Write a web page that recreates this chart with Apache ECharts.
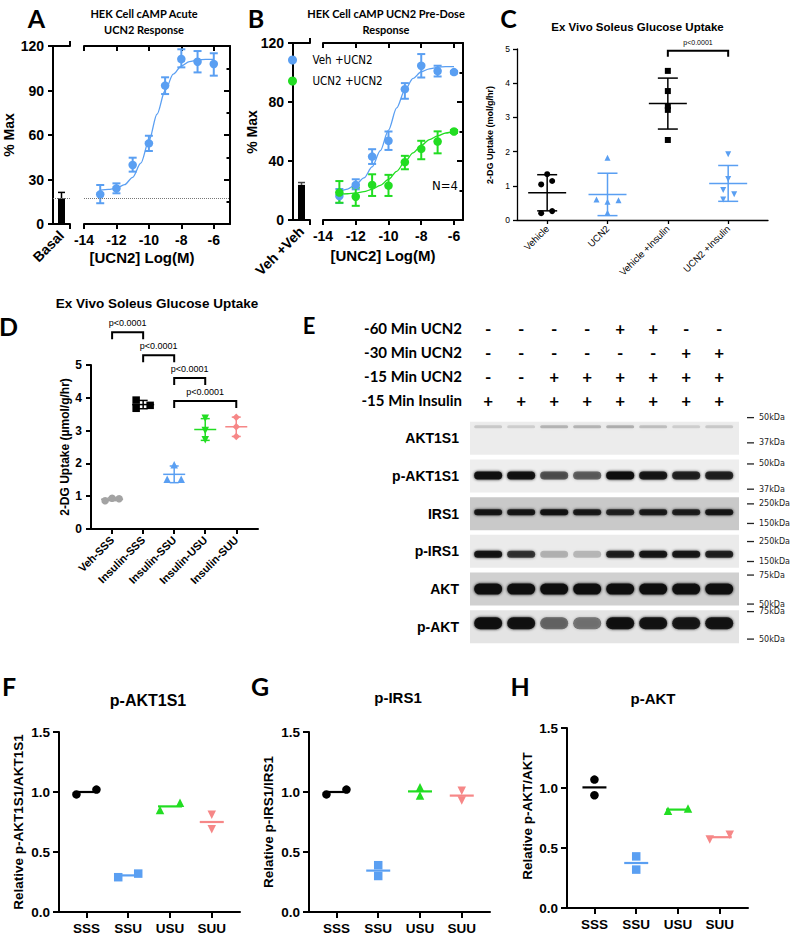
<!DOCTYPE html>
<html><head><meta charset="utf-8">
<script src="https://cdn.jsdelivr.net/npm/echarts@6/dist/echarts.min.js"></script>
<style>html,body{margin:0;padding:0;background:#fff}#c{width:800px;height:941px}</style>
</head><body><div id="c"></div>
<script>
// ================= DATA =================
// Panel A
const aLogDose = [-13, -12, -11, -10, -9, -8, -7, -6];
const aResponse = [20.0, 24.0, 39.8, 54.4, 93.3, 111.2, 109.4, 107.9];
const aErrLow = [14.0, 20.7, 35.3, 49.2, 87.6, 105.6, 102.2, 100.0];
const aErrHigh = [26.3, 27.4, 44.7, 59.5, 98.9, 117.8, 116.6, 115.1];
const aFitDose = [-13, -12.5, -12, -11.5, -11, -10.5, -10, -9.5, -9, -8.5, -8, -7.5, -7, -6.5, -6];
const aFitResp = [22.8, 23.3, 24.2, 26.5, 31.5, 41, 56, 74, 90, 101, 106.5, 109.5, 110.5, 111, 111];
const aBasal = 17.3;
const aBasalErr = 21.3;
const logTicks = [-14, -12, -10, -8, -6];
// Panel B
const bLogDose = [-13, -12, -11, -10, -9, -8, -7, -6];
const bVehUcn2 = [16.3, 23.8, 43.0, 53.7, 88.7, 104.6, 101.0, 100.3];
const bVehLow = [11.5, 20.8, 38.0, 47.5, 82.2, 96.6, 97.3, 99.5];
const bVehHigh = [21.0, 27.6, 48.0, 60.0, 92.8, 112.5, 104.6, 101.0];
const bUcnUcn2 = [18.6, 15.8, 23.8, 23.3, 39.2, 48.2, 53.2, 60.0];
const bUcnLow = [11.7, 9.6, 16.3, 16.3, 34.4, 41.2, 45.2, 59.0];
const bUcnHigh = [26.4, 22.0, 31.0, 30.6, 43.5, 53.7, 60.1, 61.0];
const bFitDose = [-13, -12.5, -12, -11.5, -11, -10.5, -10, -9.5, -9, -8.5, -8, -7.5, -7, -6.5, -6];
const bFitVeh = [19.2, 21, 24, 28.5, 36, 47, 61, 76, 88, 96, 100.5, 102.5, 103.5, 104, 104];
const bFitUcn = [17.5, 17.8, 18.3, 19.2, 20.8, 23.5, 27.5, 33, 39.5, 45.5, 50.5, 54.5, 57, 59, 60];
const bBasal = 23.8;
const bBasalErr = 25.4;
const bSeriesNames = ['Veh +UCN2', 'UCN2 +UCN2'];
// Panel C
const cGroups = ['Vehicle', 'UCN2', 'Vehicle +Insulin', 'UCN2 +Insulin'];
const cValues = [
  [1.34, 1.04, 1.14, 0.20, 0.26],
  [1.82, 0.60, 0.53, 0.58, 0.21],
  [4.36, 3.77, 3.33, 3.22, 2.34],
  [1.92, 1.20, 0.88, 0.75, 0.60]
];
const cJitter = [[0, -6, 5, -6, 5], [0, -11, 0, 11, 0], [0, 0, 0, 0, 0], [0, 0, -5, 6, -5]];
const cBrackets = [[2, 3, 4.95]];
const cPLabels = ['p<0.0001'];
// Panel D
const dGroups = ['Veh-SSS', 'Insulin-SSS', 'Insulin-SSU', 'Insulin-USU', 'Insulin-SUU'];
const dValues = [
  [0.86, 0.94, 0.92],
  [3.93, 3.77, 3.68],
  [1.96, 1.52, 1.52],
  [3.38, 3.00, 2.72],
  [3.41, 3.12, 2.82]
];
const dJitter = [[-7, 0, 7], [-7, 7, -7], [0, -7, 7], [0, 0, 0], [0, 0, 0]];
const dBrackets = [[0, 1, 6.0], [1, 2, 5.3], [2, 3, 4.6], [2, 4, 3.9]];
const dPLabels = ['p<0.0001', 'p<0.0001', 'p<0.0001', 'p<0.0001'];
// Panel E (western blot)
const eLanes = [0, 1, 2, 3, 4, 5, 6, 7];
const eTreatRows = ['-60 Min UCN2', '-30 Min UCN2', '-15 Min UCN2', '-15 Min Insulin'];
const eTreatSigns = [
  ['-', '-', '-', '-', '+', '+', '-', '-'],
  ['-', '-', '-', '-', '-', '-', '+', '+'],
  ['-', '-', '+', '+', '+', '+', '+', '+'],
  ['+', '+', '+', '+', '+', '+', '+', '+']
];
const eBlotRows = ['AKT1S1', 'p-AKT1S1', 'IRS1', 'p-IRS1', 'AKT', 'p-AKT'];
const eBandIntensity = [
  [0.14, 0.12, 0.22, 0.22, 0.24, 0.18, 0.12, 0.14],
  [0.95, 0.92, 0.60, 0.55, 0.97, 0.88, 0.82, 0.82],
  [0.88, 0.88, 0.92, 0.85, 0.80, 0.85, 0.82, 0.88],
  [0.90, 0.72, 0.22, 0.20, 0.82, 0.88, 0.88, 0.82],
  [0.97, 0.97, 0.97, 0.97, 0.97, 0.97, 0.95, 0.97],
  [0.95, 0.92, 0.50, 0.45, 0.92, 0.90, 0.88, 0.90]
];
const eMarkerLabels = ['50kDa', '37kDa', '50kDa', '37kDa', '250kDa', '150kDa', '250kDa', '150kDa', '75kDa', '50kDa', '75kDa', '50kDa'];
const eMarkerRowPos = [-0.55, 0.12, 0.68, 1.35, 1.74, 2.26, 2.74, 3.27, 3.63, 4.40, 4.60, 5.33];
// Panels F, G, H
const fghGroups = ['SSS', 'SSU', 'USU', 'SUU'];
const fValues = [[0.98, 1.02], [0.29, 0.32], [0.85, 0.91], [0.81, 0.69]];
const gValues = [[0.98, 1.02], [0.39, 0.30], [1.04, 0.97], [1.01, 0.93]];
const hValues = [[1.07, 0.94], [0.43, 0.32], [0.81, 0.83], [0.57, 0.61]];
const fJitter = [[-10, 10], [-10, 10], [-10, 10], [0, 0]];
const gJitter = [[-10, 10], [0, 0], [0, 0], [0, 0]];
const hJitter = [[0, 0], [0, 0], [-10, 10], [-10, 10]];

// ================= STYLE =================
const BLUE = '#5a9ff2', GREEN = '#22dd22', PINK = '#f68787', GRAY = '#a3a3a3', BLACK = '#000000';
const ARIAL = '"Liberation Sans", Arial, Helvetica, sans-serif';
const NARROW = '"Liberation Sans Narrow", "Arial Narrow", "DejaVu Sans Condensed", "Liberation Sans", sans-serif';
const CALI = 'Lato, "Open Sans", "Noto Sans", sans-serif';
const cSymbols = ['circle', 'triangle', 'rect', 'triangle'], cRotate = [0, 0, 0, 180], cColors = [BLACK, BLUE, BLACK, BLUE];
const dSymbols = ['circle', 'rect', 'triangle', 'triangle', 'diamond'], dRotate = [0, 0, 0, 180, 0], dColors = [GRAY, BLACK, BLUE, GREEN, PINK];
const fghSymbols = ['circle', 'rect', 'triangle', 'triangle'], fghRotate = [0, 0, 0, 180], fghColors = [BLACK, BLUE, GREEN, PINK];
const eBoxShade = ['#ececec', '#eeeeee', '#c9c9c9', '#ebebeb', '#d0d0d0', '#e4e4e4'];
const eBandHeight = [3, 8, 6, 7, 11, 12];
const eBandDy = [-11.5, -0.5, -1.5, 3, 0, -3.5];

// ================= HELPERS =================
const mean = a => a.reduce((s, v) => s + v, 0) / a.length;
const sdev = a => { const m = mean(a); return Math.sqrt(a.reduce((s, v) => s + (v - m) * (v - m), 0) / (a.length - 1)); };
const zip = (a, b) => a.map((v, i) => [v, b[i]]);
const zip3 = (a, b, c) => a.map((v, i) => [v, b[i], c[i]]);

function merge(a, b) {
  const o = Object.assign({}, a);
  for (const k in b) {
    const v = b[k];
    if (v && typeof v === 'object' && !Array.isArray(v) && a[k] && typeof a[k] === 'object' && !Array.isArray(a[k])) o[k] = merge(a[k], v);
    else o[k] = v;
  }
  return o;
}
function axis(lw, fs, extra) {
  return merge({
    type: 'value',
    axisLine: { show: true, onZero: false, lineStyle: { color: BLACK, width: lw } },
    axisTick: { show: true, length: 5, inside: false, lineStyle: { color: BLACK, width: lw } },
    minorTick: { show: false },
    splitLine: { show: false },
    axisLabel: { show: true, color: BLACK, fontFamily: ARIAL, fontWeight: 'bold', fontSize: fs, margin: 8 }
  }, extra);
}
function ln(x1, y1, x2, y2, color, lw) {
  return { type: 'line', shape: { x1, y1, x2, y2 }, style: { stroke: color, lineWidth: lw } };
}
function errBar(color, cap, lw, lowCap) {
  return function (params, api) {
    const x = api.value(0), lo = api.value(1), hi = api.value(2);
    const pl = api.coord([x, lo]), ph = api.coord([x, hi]);
    const ch = [ln(pl[0], pl[1], ph[0], ph[1], color, lw), ln(ph[0] - cap / 2, ph[1], ph[0] + cap / 2, ph[1], color, lw)];
    if (lowCap) ch.push(ln(pl[0] - cap / 2, pl[1], pl[0] + cap / 2, pl[1], color, lw));
    return { type: 'group', children: ch };
  };
}
function meanSd(colors, meanW, capW, lw, showSd) {
  return function (params, api) {
    const i = params.dataIndex, x = api.value(0), m = api.value(1);
    const c = api.coord([x, m]), col = colors[i];
    const ch = [ln(c[0] - meanW / 2, c[1], c[0] + meanW / 2, c[1], col, lw)];
    if (showSd) {
      const s = api.value(2);
      const t = api.coord([x, m + s]), b = api.coord([x, m - s]);
      ch.push(ln(t[0], t[1], b[0], b[1], col, lw));
      ch.push(ln(t[0] - capW / 2, t[1], t[0] + capW / 2, t[1], col, lw));
      ch.push(ln(b[0] - capW / 2, b[1], b[0] + capW / 2, b[1], col, lw));
    }
    return { type: 'group', children: ch };
  };
}
function bracket(labels, drop, gap, fs, lw) {
  return function (params, api) {
    const p1 = api.coord([api.value(0), api.value(2)]), p2 = api.coord([api.value(1), api.value(2)]);
    return { type: 'group', children: [
      { type: 'polyline', shape: { points: [[p1[0], p1[1] + drop], [p1[0], p1[1]], [p2[0], p2[1]], [p2[0], p2[1] + drop]] }, style: { stroke: BLACK, fill: null, lineWidth: lw } },
      { type: 'text', style: { text: labels[params.dataIndex], x: (p1[0] + p2[0]) / 2, y: p1[1] - gap, fill: BLACK, font: `${fs}px ${ARIAL}`, align: 'center', verticalAlign: 'middle' } }
    ] };
  };
}
function dotPlot(values, jitter, symbols, rotate, colors, xi, yi, size) {
  return values.map((vals, i) => ({
    type: 'scatter', xAxisIndex: xi, yAxisIndex: yi, symbol: symbols[i], symbolRotate: rotate[i], symbolSize: size,
    itemStyle: { color: colors[i], opacity: 1 }, z: 4,
    data: vals.map((v, j) => ({ value: [i, v], symbolOffset: [jitter[i][j], 0] }))
  }));
}
function T(x, y, text, size, weight, family, rot, align) {
  return { type: 'text', x, y, rotation: rot || 0, silent: true,
    style: { text, fill: BLACK, font: `${weight} ${size}px ${family}`, align: align || 'center', verticalAlign: 'middle' } };
}

// ================= LAYOUT =================
const grids = [
  { left: 53, top: 46, width: 17, height: 178 },      // 0 A basal
  { left: 84, top: 46, width: 146, height: 178 },     // 1 A main
  { left: 293, top: 43, width: 17, height: 177 },     // 2 B basal
  { left: 323, top: 43, width: 140, height: 177 },    // 3 B main
  { left: 517, top: 49, width: 251, height: 171 },    // 4 C
  { left: 91, top: 365, width: 167, height: 164 },    // 5 D
  { left: 470, top: 316, width: 269, height: 96 },    // 6 E signs
  { left: 470, top: 419.5, width: 269, height: 226 }, // 7 E blots
  { left: 59, top: 732, width: 181, height: 180 },    // 8 F
  { left: 309, top: 732, width: 181, height: 180 },   // 9 G
  { left: 567, top: 728, width: 181, height: 180 }    // 10 H
].map(g => Object.assign({ containLabel: false, outerBoundsMode: 'none', show: false }, g));

const fghX = gi => axis(2, 13.5, { gridIndex: gi, min: -0.657, max: 3.676, axisTick: { customValues: [0, 1, 2, 3], length: 6 },
  axisLabel: { customValues: [0, 1, 2, 3], formatter: v => fghGroups[Math.round(v)], margin: 9 } });
const fghY = gi => axis(2, 13.5, { gridIndex: gi, min: 0, max: 1.5, interval: 0.5, axisTick: { length: 6 },
  axisLabel: { formatter: v => v.toFixed(1), margin: 9 } });
const minorRight = (gi, iv) => axis(2, 14, { gridIndex: gi, position: 'right', min: 0, max: 120, interval: iv,
  axisTick: { inside: true, length: 6 }, minorTick: { show: true, splitNumber: 2, length: 3.5, lineStyle: { color: BLACK, width: 2 } },
  axisLabel: { show: false } });

const xAxes = [
  axis(2, 14, { gridIndex: 0, min: 0, max: 2, axisTick: { customValues: [2] }, axisLabel: { customValues: [1], formatter: () => 'Basal', rotate: 45, margin: 9 } }),
  axis(2, 14, { gridIndex: 0, position: 'top', min: 0, max: 2, axisTick: { customValues: [2] }, axisLabel: { show: false } }),
  axis(2, 14, { gridIndex: 1, min: -14, max: -5, axisTick: { customValues: logTicks }, axisLabel: { customValues: logTicks, margin: 9 } }),
  axis(2, 14, { gridIndex: 1, position: 'top', min: -14, max: -5, axisTick: { customValues: logTicks, inside: true }, axisLabel: { show: false } }),
  axis(2, 14, { gridIndex: 2, min: 0, max: 2, axisTick: { customValues: [2] }, axisLabel: { customValues: [1], formatter: () => 'Veh +Veh', rotate: 45, margin: 9 } }),
  axis(2, 14, { gridIndex: 2, position: 'top', min: 0, max: 2, axisTick: { customValues: [2] }, axisLabel: { show: false } }),
  axis(2, 14, { gridIndex: 3, min: -14, max: -5.45, axisTick: { customValues: logTicks }, axisLabel: { customValues: logTicks, margin: 9 } }),
  axis(2, 14, { gridIndex: 3, position: 'top', min: -14, max: -5.45, axisTick: { customValues: logTicks, inside: true }, axisLabel: { show: false } }),
  axis(1.3, 9.5, { gridIndex: 4, min: -0.5, max: 3.66, axisTick: { customValues: [0, 1, 2, 3], length: 4 },
    axisLabel: { customValues: [0, 1, 2, 3], formatter: v => cGroups[Math.round(v)], rotate: 45, fontWeight: 'normal', margin: 7 } }),
  axis(2, 11, { gridIndex: 5, min: -0.68, max: 4.7, axisTick: { customValues: [0, 1, 2, 3, 4] },
    axisLabel: { customValues: [0, 1, 2, 3, 4], formatter: v => dGroups[Math.round(v)], rotate: 45, margin: 9 } }),
  { gridIndex: 6, type: 'value', min: -0.55, max: 7.6, show: false },
  { gridIndex: 7, type: 'value', min: -0.55, max: 7.6, show: false },
  fghX(8), fghX(9), fghX(10)
];
const yAxes = [
  axis(2, 14, { gridIndex: 0, min: 0, max: 120, interval: 30, axisLabel: { margin: 9 } }),
  minorRight(1, 30),
  axis(2, 14, { gridIndex: 2, min: 0, max: 120, interval: 40, axisLabel: { margin: 9 } }),
  minorRight(3, 40),
  axis(1.3, 8.5, { gridIndex: 4, min: 0, max: 5, interval: 1, axisTick: { length: 4 }, axisLabel: { fontWeight: 'normal', margin: 7 } }),
  axis(2, 12, { gridIndex: 5, min: 0, max: 5, interval: 1, axisLabel: { margin: 9 } }),
  { gridIndex: 6, type: 'category', inverse: true, data: eTreatRows, axisLine: { show: false }, axisTick: { show: false }, splitLine: { show: false },
    axisLabel: { color: BLACK, fontFamily: CALI, fontWeight: 'bold', fontSize: 15, margin: 8 } },
  { gridIndex: 7, type: 'value', inverse: true, min: -0.5, max: 5.5, axisLine: { show: false }, axisTick: { show: false }, splitLine: { show: false },
    axisLabel: { customValues: [0, 1, 2, 3, 4, 5], formatter: v => eBlotRows[Math.round(v)], color: BLACK, fontFamily: ARIAL, fontWeight: 'bold', fontSize: 14, margin: 11 } },
  fghY(8), fghY(9), fghY(10)
];

const dotted = v => ({ silent: true, symbol: ['none', 'none'], label: { show: false }, lineStyle: { type: 'dotted', color: '#777', width: 1 }, data: [{ yAxis: v }] });

const series = [];
// ---- A ----
series.push({ type: 'bar', xAxisIndex: 0, yAxisIndex: 0, data: [[1, aBasal]], barWidth: 7, itemStyle: { color: BLACK }, markLine: dotted(aBasal) });
series.push({ type: 'custom', xAxisIndex: 0, yAxisIndex: 0, data: [[1, aBasal, aBasalErr]], renderItem: errBar(BLACK, 7, 1.5, false) });
series.push({ type: 'line', xAxisIndex: 2, yAxisIndex: 1, data: zip(aFitDose, aFitResp), smooth: 0.3, smoothMonotone: 'x', symbol: 'none', lineStyle: { color: BLUE, width: 1.3 }, markLine: dotted(aBasal) });
series.push({ type: 'custom', xAxisIndex: 2, yAxisIndex: 1, data: zip3(aLogDose, aErrLow, aErrHigh), renderItem: errBar(BLUE, 8, 2, true) });
series.push({ type: 'scatter', xAxisIndex: 2, yAxisIndex: 1, data: zip(aLogDose, aResponse), symbolSize: 8.5, itemStyle: { color: BLUE, opacity: 1 }, z: 4 });
// ---- B ----
series.push({ type: 'bar', xAxisIndex: 4, yAxisIndex: 2, data: [[1, bBasal]], barWidth: 7, itemStyle: { color: BLACK } });
series.push({ type: 'custom', xAxisIndex: 4, yAxisIndex: 2, data: [[1, bBasal, bBasalErr]], renderItem: errBar('#444', 7, 1.5, false) });
series.push({ type: 'line', xAxisIndex: 6, yAxisIndex: 3, data: zip(bFitDose, bFitVeh), smooth: 0.3, smoothMonotone: 'x', symbol: 'none', lineStyle: { color: BLUE, width: 1.3 } });
series.push({ type: 'line', xAxisIndex: 6, yAxisIndex: 3, data: zip(bFitDose, bFitUcn), smooth: 0.3, smoothMonotone: 'x', symbol: 'none', lineStyle: { color: GREEN, width: 1.3 } });
series.push({ type: 'custom', xAxisIndex: 6, yAxisIndex: 3, data: zip3(bLogDose, bVehLow, bVehHigh), renderItem: errBar(BLUE, 8, 2, true) });
series.push({ type: 'custom', xAxisIndex: 6, yAxisIndex: 3, data: zip3(bLogDose, bUcnLow, bUcnHigh), renderItem: errBar(GREEN, 8, 2, true) });
series.push({ type: 'scatter', name: bSeriesNames[0], xAxisIndex: 6, yAxisIndex: 3, data: zip(bLogDose, bVehUcn2), symbolSize: 8.5, itemStyle: { color: BLUE, opacity: 1 }, z: 4 });
series.push({ type: 'scatter', name: bSeriesNames[1], xAxisIndex: 6, yAxisIndex: 3, data: zip(bLogDose, bUcnUcn2), symbolSize: 8.5, itemStyle: { color: GREEN, opacity: 1 }, z: 4 });
// ---- C ----
series.push({ type: 'custom', xAxisIndex: 8, yAxisIndex: 4, data: cValues.map((v, i) => [i, mean(v), sdev(v)]), renderItem: meanSd(cColors, 38, 20, 1.5, true), z: 2 });
dotPlot(cValues, cJitter, cSymbols, cRotate, cColors, 8, 4, 6).forEach(s => series.push(s));
series.push({ type: 'custom', xAxisIndex: 8, yAxisIndex: 4, clip: false, data: cBrackets, renderItem: bracket(cPLabels, 6, 8, 7, 2) });
// ---- D ----
series.push({ type: 'custom', xAxisIndex: 9, yAxisIndex: 5, data: dValues.map((v, i) => [i, mean(v), sdev(v)]), renderItem: meanSd(dColors, 22, 9, 1.5, true), z: 2 });
dotPlot(dValues, dJitter, dSymbols, dRotate, dColors, 9, 5, 7.5).forEach(s => series.push(s));
series.push({ type: 'custom', xAxisIndex: 9, yAxisIndex: 5, clip: false, data: dBrackets, renderItem: bracket(dPLabels, 7, 9, 9, 2) });
// ---- E ----
const signData = [];
eTreatSigns.forEach((row, r) => row.forEach((s, l) => signData.push([eLanes[l], r])));
series.push({ type: 'custom', xAxisIndex: 10, yAxisIndex: 6, data: signData, renderItem: function (params, api) {
  const l = api.value(0), r = api.value(1), c = api.coord([l, r]);
  return { type: 'text', style: { text: eTreatSigns[r][l], x: c[0], y: c[1], fill: BLACK, font: `bold 17px ${CALI}`, align: 'center', verticalAlign: 'middle' } };
} });
series.push({ type: 'custom', xAxisIndex: 11, yAxisIndex: 7, data: eBlotRows.map((n, r) => [0, r]), renderItem: function (params, api) {
  const r = api.value(1), c = api.coord([0, r]), cs = params.coordSys, h = 33;
  return { type: 'rect', shape: { x: cs.x, y: c[1] - h / 2, width: cs.width, height: h }, style: { fill: eBoxShade[r] } };
}, z: 1 });
const bandData = [];
eBandIntensity.forEach((row, r) => row.forEach((v, l) => bandData.push([eLanes[l], r, v])));
series.push({ type: 'custom', xAxisIndex: 11, yAxisIndex: 7, data: bandData, renderItem: function (params, api) {
  const l = api.value(0), r = api.value(1), v = api.value(2), c = api.coord([l, r]);
  const h = eBandHeight[r], w = 28, col = `rgba(15,15,15,${v})`;
  return { type: 'rect', shape: { x: c[0] - w / 2, y: c[1] + eBandDy[r] - h / 2, width: w, height: h, r: h / 2 },
    style: { fill: col, shadowBlur: 3, shadowColor: col } };
}, z: 2 });
series.push({ type: 'custom', xAxisIndex: 11, yAxisIndex: 7, clip: false, data: eMarkerRowPos.map(p => [0, p]), renderItem: function (params, api) {
  const c = api.coord([0, api.value(1)]), cs = params.coordSys, x0 = cs.x + cs.width + 8;
  return { type: 'group', children: [
    ln(x0, c[1], x0 + 7, c[1], '#222', 1.3),
    { type: 'text', style: { text: eMarkerLabels[params.dataIndex], x: x0 + 12, y: c[1], fill: '#222', font: `8px "DejaVu Sans", ${ARIAL}`, align: 'left', verticalAlign: 'middle' } }
  ] };
} });
// ---- F, G, H ----
[[fValues, fJitter, 12, 8], [gValues, gJitter, 13, 9], [hValues, hJitter, 14, 10]].forEach(([vals, jit, xi, yi]) => {
  series.push({ type: 'custom', xAxisIndex: xi, yAxisIndex: yi, data: vals.map((v, i) => [i, mean(v)]), renderItem: meanSd(fghColors, 24, 0, 2.2, false), z: 2 });
  dotPlot(vals, jit, fghSymbols, fghRotate, fghColors, xi, yi, 8.5).forEach(s => series.push(s));
});

const graphics = [
  T(36.5, 18, 'A', 25, 'bold', CALI), T(256, 18, 'B', 25, 'bold', CALI), T(508.5, 18, 'C', 25, 'bold', CALI),
  T(8.5, 326, 'D', 25, 'bold', CALI), T(309, 325, 'E', 22, 'bold', CALI),
  T(9, 686, 'F', 25, 'bold', CALI), T(260, 686, 'G', 25, 'bold', CALI), T(520, 686, 'H', 25, 'bold', CALI),
  T(144, 13.5, 'HEK Cell cAMP Acute', 11, 'bold', CALI), T(144, 29.5, 'UCN2 Response', 11, 'bold', CALI),
  T(386, 13.5, 'HEK Cell cAMP UCN2 Pre-Dose', 11, 'bold', CALI), T(386, 29.5, 'Response', 11, 'bold', CALI),
  T(9, 135, '% Max', 14, 'bold', ARIAL, Math.PI / 2), T(251.5, 132, '% Max', 14, 'bold', ARIAL, Math.PI / 2),
  T(142, 257, '[UCN2] Log(M)', 15, 'bold', ARIAL), T(383, 255, '[UNC2] Log(M)', 15, 'bold', ARIAL),
  T(445, 185, 'N=4', 13, 'normal', NARROW),
  T(637.5, 27, 'Ex Vivo Soleus Glucose Uptake', 11.5, 'bold', ARIAL),
  T(490, 135, '2-DG Uptake (mol/g/hr)', 9, 'bold', ARIAL, Math.PI / 2),
  T(157, 303, 'Ex Vivo Soleus Glucose Uptake', 13.5, 'bold', ARIAL),
  T(65, 447, '2-DG Uptake (µmol/g/hr)', 12, 'bold', ARIAL, Math.PI / 2),
  T(148, 700, 'p-AKT1S1', 16, 'bold', ARIAL), T(398, 697, 'p-IRS1', 15, 'bold', ARIAL), T(653, 698, 'p-AKT', 15, 'bold', ARIAL),
  T(18, 822, 'Relative p-AKT1S1/AKT1S1', 13.5, 'bold', ARIAL, Math.PI / 2),
  T(268, 822, 'Relative p-IRS1/IRS1', 13.5, 'bold', ARIAL, Math.PI / 2),
  T(527, 816, 'Relative p-AKT/AKT', 13.5, 'bold', ARIAL, Math.PI / 2)
];

const chart = echarts.init(document.getElementById('c'), null, { renderer: 'svg', width: 800, height: 941 });
chart.setOption({
  animation: false,
  backgroundColor: '#ffffff',
  grid: grids,
  xAxis: xAxes,
  yAxis: yAxes,
  legend: {
    data: bSeriesNames, left: 288, top: 54, orient: 'vertical', itemWidth: 30, itemHeight: 9, itemGap: 9,
    icon: 'circle', selectedMode: false, padding: 0,
    textStyle: { fontFamily: NARROW, fontSize: 11.5, color: BLACK, lineHeight: 12 }
  },
  series: series,
  graphic: { elements: graphics }
});
</script>
</body></html>
